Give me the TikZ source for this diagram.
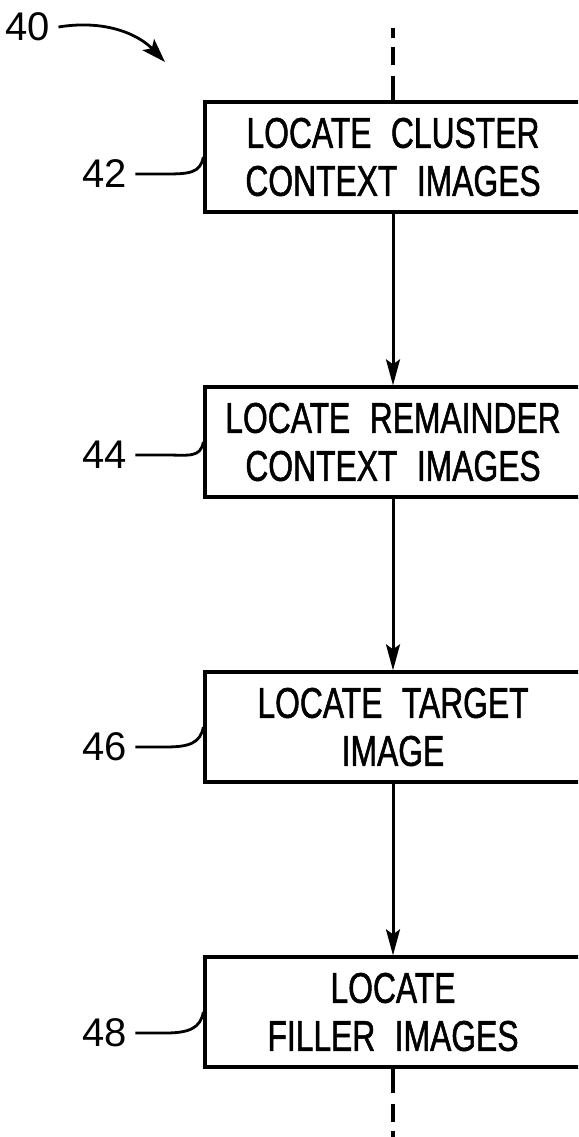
\documentclass[tikz,border=0pt]{standalone}
\usepackage{fontspec}
\setmainfont{Liberation Sans}
\newfontfamily\boxfont[FakeStretch=0.74,FakeBold=1.2,WordSpace=2.2]{Liberation Sans}
\usetikzlibrary{arrows.meta,positioning}

\begin{document}
\begin{tikzpicture}[
  x=1pt, y=-1pt,
  stepbox/.style={
    draw,
    line width=3.3pt,
    minimum width=376pt,
    minimum height=110pt,
    align=center,
    font=\boxfont\fontsize{43}{48}\selectfont
    },
  reflabel/.style={
    inner sep=0pt,
    inner xsep=8pt,
    font=\fontsize{40}{40}\selectfont
    },
  flow/.style={
    line width=3pt,
    -{Stealth[length=26pt,width=14pt,inset=5pt]}
    },
  leader/.style={line width=2.8pt},
  dashes/.style={
    line width=3.2pt,
    dash pattern=on 24pt off 11pt on 18pt off 9pt
  }
]
\useasboundingbox (0,0) rectangle (578,1137);
\clip (0,0) rectangle (578,1137);

\node[stepbox] (locate42) at (393,157) {LOCATE CLUSTER\\CONTEXT IMAGES};
\node[stepbox, below=171.7pt of locate42] (locate44) {LOCATE REMAINDER\\CONTEXT IMAGES};
\node[stepbox, below=171.7pt of locate44] (locate46) {LOCATE TARGET\\IMAGE};
\node[stepbox, below=171.7pt of locate46] (locate48) {LOCATE\\FILLER IMAGES};

\draw[flow] (locate42) -- (locate44);
\draw[flow] (locate44) -- (locate46);
\draw[flow] (locate46) -- (locate48);

% broken lines in and out
\coordinate (topend) at (393,28);
\coordinate (botend) at (393,1137);
\draw[dashes] (locate42.north) -- (topend);
\draw[dashes] (locate48.south) -- (botend);

% reference numerals
\node[reflabel] (num40) at (28,27) {40};
\coordinate (aim40) at (165,62);
\draw[leader, -{Stealth[length=24pt,width=16pt,inset=5pt]}]
  (num40.east) .. controls (108,19) and (140,36) .. (aim40);

\node[reflabel] (num42) at (105,174) {42};
\node[reflabel] (num44) at (105,455) {44};
\node[reflabel] (num46) at (105,747) {46};
\node[reflabel] (num48) at (105,1033) {48};

\foreach \n in {42,44,46,48}
  \draw[leader] (num\n.east) -- ++(30,0)
    .. controls +(24,0) and +(-3,16) .. (locate\n.west);

\end{tikzpicture}
\end{document}
